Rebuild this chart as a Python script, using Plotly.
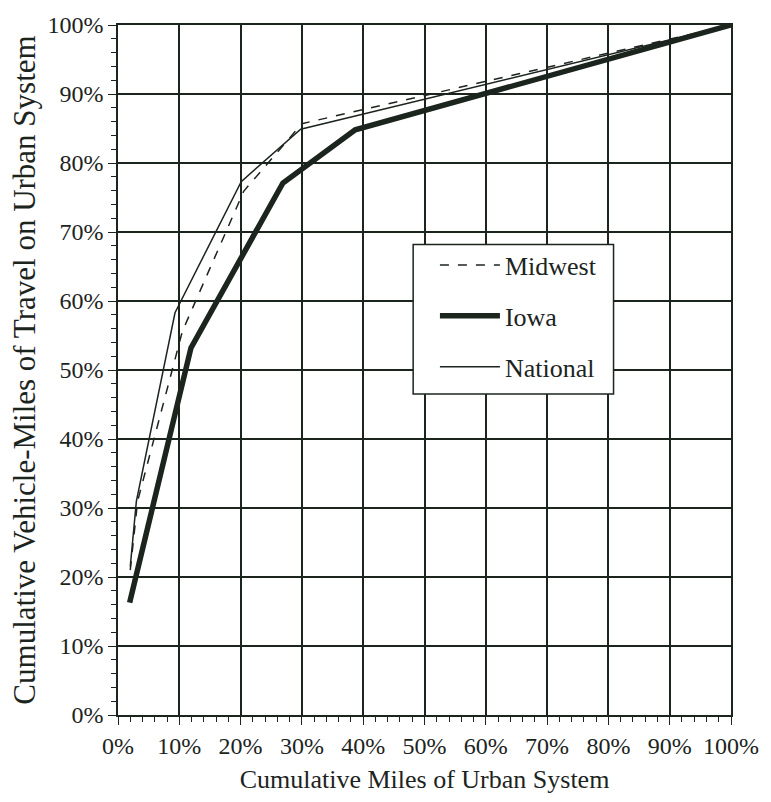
import plotly.graph_objects as go

# Data (percent)
midwest_x = [2.0, 3.2, 10.5, 20.5, 30.0, 100.0]
midwest_y = [21.0, 31.0, 55.6, 75.9, 85.7, 100.0]

iowa_x = [1.9, 11.9, 26.9, 38.7, 100.0]
iowa_y = [16.3, 53.2, 77.1, 84.8, 100.0]

national_x = [2.0, 3.0, 9.3, 20.1, 29.8, 100.0]
national_y = [21.5, 31.0, 58.3, 77.3, 84.9, 100.0]

tick_vals = list(range(0, 101, 10))
tick_text = [f"{v}%" for v in tick_vals]

INK = "#1c241e"
FONT = "Liberation Serif"

fig = go.Figure()
fig.add_trace(go.Scatter(x=midwest_x, y=midwest_y, mode="lines", name="Midwest",
                         legendgroup="a",
                         line=dict(color=INK, width=1.5, dash="dash")))
fig.add_trace(go.Scatter(x=iowa_x, y=iowa_y, mode="lines", name="Iowa",
                         legendgroup="b",
                         line=dict(color=INK, width=5.5)))
fig.add_trace(go.Scatter(x=national_x, y=national_y, mode="lines", name="National",
                         legendgroup="c",
                         line=dict(color=INK, width=1.5)))

axis_common = dict(
    range=[0, 100], tickvals=tick_vals, ticktext=tick_text,
    showgrid=True, gridcolor=INK, gridwidth=1.5,
    showline=True, linecolor=INK, linewidth=1.6, mirror=True,
    ticks="outside", ticklen=8, tickwidth=1.4, tickcolor=INK,
    minor=dict(ticks="outside", dtick=2, ticklen=5, tickwidth=1.2, tickcolor=INK, showgrid=False),
    zeroline=False,
    tickfont=dict(family=FONT, size=24, color=INK),
)

fig.update_xaxes(**axis_common,
                 title=dict(text="Cumulative Miles of Urban System",
                            font=dict(family=FONT, size=26, color=INK), standoff=12))
fig.update_yaxes(**axis_common,
                 title=dict(text="Cumulative Vehicle-Miles of Travel on Urban System",
                            font=dict(family=FONT, size=31, color=INK), standoff=3))

# legend frame
fig.add_shape(type="rect", xref="paper", yref="paper",
              x0=0.4815, x1=0.8084, y0=0.4653, y1=0.682,
              fillcolor="white", line=dict(color=INK, width=1.5), layer="above")

fig.update_layout(
    width=771, height=802,
    margin=dict(l=118, r=32, t=23, b=87),
    paper_bgcolor="white", plot_bgcolor="white",
    showlegend=True,
    legend=dict(x=0.517, y=0.686, xanchor="left", yanchor="top",
                bgcolor="rgba(0,0,0,0)", borderwidth=0,
                font=dict(family=FONT, size=26, color=INK),
                tracegroupgap=14, itemwidth=60),
)

fig.write_html("out.html")
